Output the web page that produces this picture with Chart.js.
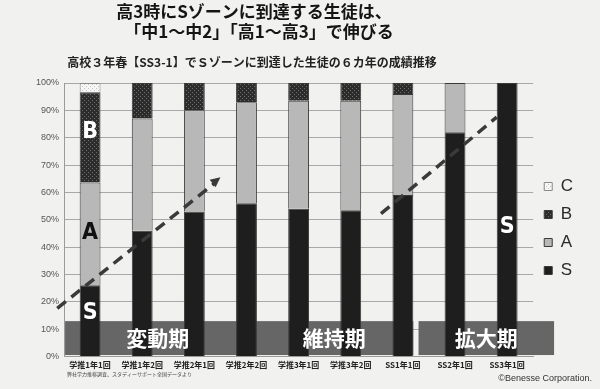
<!DOCTYPE html>
<html>
<head>
<meta charset="utf-8">
<script src="https://cdn.jsdelivr.net/npm/chart.js@4/dist/chart.umd.min.js"></script>
<style>
  html, body { margin: 0; padding: 0; background: #f1f1ef; }
  #wrap { width: 600px; height: 389px; }
</style>
</head>
<body>
<div id="wrap"><canvas id="graph1" width="600" height="389"></canvas></div>
<script>
// カテゴリと値（％）
const categories = ['学推1年1回', '学推1年2回', '学推2年1回', '学推2年2回', '学推3年1回', '学推3年2回', 'SS1年1回', 'SS2年1回', 'SS3年1回'];
const sValues = [26, 46, 53, 56, 54, 53.5, 59, 82, 100];
const aValues = [37.6, 41, 37, 37, 39.5, 40, 37, 18, 0];
const bValues = [33, 13, 10, 7, 6.5, 6.5, 4, 0, 0];
const cValues = [3.4, 0, 0, 0, 0, 0, 0, 0, 0];
const yTicks = [0, 10, 20, 30, 40, 50, 60, 70, 80, 90, 100];
const phaseNames = ['変動期', '維持期', '拡大期'];

const JP = '"Noto Sans CJK JP", sans-serif';

function makePattern(base, dot) {
    const c = document.createElement('canvas');
    c.width = 4; c.height = 4;
    const g = c.getContext('2d');
    g.fillStyle = base;
    g.fillRect(0, 0, 4, 4);
    g.fillStyle = dot;
    g.fillRect(0, 0, 1, 1);
    g.fillRect(2, 2, 1, 1);
    return g.createPattern(c, 'repeat');
}

const patB = makePattern('#2c2c2c', '#6e6e6e');
const patC = makePattern('#f6f6f6', '#c4c4c4');

// 帯・矢印・文字の描画
const overlay = {
    id: 'overlay',
    beforeDatasetsDraw(chart) {
        const {ctx, scales: {x, y}} = chart;
        const spans = [[-0.48, 3.08], [3.17, 6.2], [6.3, 8.9]];
        ctx.save();
        ctx.fillStyle = '#666666';
        spans.forEach(([a, b]) => {
            const x0 = x.getPixelForValue(a), x1 = x.getPixelForValue(b);
            const y0 = y.getPixelForValue(12.9), y1 = y.getPixelForValue(0.5);
            ctx.fillRect(x0, y0, x1 - x0, y1 - y0);
        });
        ctx.restore();
    },
    afterDatasetsDraw(chart) {
        const {ctx, scales: {x, y}} = chart;
        const spans = [[-0.48, 3.08], [3.17, 6.2], [6.3, 8.9]];
        ctx.save();
        // 期の名前
        ctx.fillStyle = '#ffffff';
        ctx.font = 'bold 21px ' + JP;
        ctx.textAlign = 'center';
        ctx.textBaseline = 'middle';
        spans.forEach(([a, b], i) => {
            const cx = (x.getPixelForValue(a) + x.getPixelForValue(b)) / 2;
            ctx.fillText(phaseNames[i], cx, y.getPixelForValue(6.6));
        });

        // 破線の矢印
        ctx.strokeStyle = '#3a3a3a';
        ctx.fillStyle = '#3a3a3a';
        ctx.lineWidth = 3.5;
        ctx.setLineDash([11, 7]);
        const p0 = [x.getPixelForValue(-0.63), y.getPixelForValue(17.6)];
        const p1 = [x.getPixelForValue(2.4), y.getPixelForValue(63.5)];
        ctx.beginPath(); ctx.moveTo(p0[0], p0[1]); ctx.lineTo(p1[0], p1[1]); ctx.stroke();
        const ang = Math.atan2(p1[1] - p0[1], p1[0] - p0[0]);
        const tip = [x.getPixelForValue(2.5), y.getPixelForValue(65.5)];
        ctx.setLineDash([]);
        ctx.beginPath();
        ctx.moveTo(tip[0], tip[1]);
        ctx.lineTo(tip[0] - 11 * Math.cos(ang - 0.45), tip[1] - 11 * Math.sin(ang - 0.45));
        ctx.lineTo(tip[0] - 11 * Math.cos(ang + 0.45), tip[1] - 11 * Math.sin(ang + 0.45));
        ctx.closePath(); ctx.fill();

        ctx.setLineDash([11, 7]);
        const q0 = [x.getPixelForValue(5.58), y.getPixelForValue(52.2)];
        const q1 = [x.getPixelForValue(7.8), y.getPixelForValue(87.5)];
        ctx.beginPath(); ctx.moveTo(q0[0], q0[1]); ctx.lineTo(q1[0], q1[1]); ctx.stroke();
        ctx.setLineDash([]);

        // 棒の中の文字
        ctx.font = 'bold 23px "Liberation Sans Narrow", "DejaVu Sans Condensed", sans-serif';
        const marks = [['B', 0, 82, '#ffffff'], ['A', 0, 45, '#111111'], ['S', 0, 15.8, '#ffffff'], ['S', 8, 47.4, '#ffffff']];
        marks.forEach(([t, i, v, c]) => {
            ctx.fillStyle = c;
            ctx.fillText(t, x.getPixelForValue(i), y.getPixelForValue(v));
        });
        ctx.restore();
    },
    afterDraw(chart) {
        const ctx = chart.ctx;
        ctx.save();
        ctx.textAlign = 'center';
        ctx.textBaseline = 'middle';
        ctx.fillStyle = '#151515';
        ctx.font = 'bold 17px ' + JP;
        ctx.fillText('高3時にSゾーンに到達する生徒は、', 254, 12);
        ctx.fillText('「中1～中2」「高1～高3」で伸びる', 259, 32);
        ctx.fillStyle = '#222222';
        ctx.font = 'bold 12px ' + JP;
        ctx.fillText('高校３年春【SS3-1】でＳゾーンに到達した生徒の６カ年の成績推移', 252, 62);

        ctx.textAlign = 'left';
        ctx.fillStyle = '#444444';
        ctx.font = '5px ' + JP;
        ctx.fillText('弊社学力推移調査、スタディーサポート全国データより', 67, 374);
        ctx.textAlign = 'right';
        ctx.fillStyle = '#333333';
        ctx.font = '9px "Liberation Sans", sans-serif';
        ctx.fillText('©Benesse Corporation.', 592, 379);
        ctx.restore();
    }
};

const barBase = { borderColor: '#3a3a3a', borderWidth: 1, categoryPercentage: 1, barPercentage: 0.4 };

const config = {
    type: 'bar',
    data: {
        labels: categories,
        datasets: [
            { ...barBase, label: 'S', data: sValues, backgroundColor: '#1e1e1e' },
            { ...barBase, label: 'A', data: aValues, backgroundColor: '#b8b8b8' },
            { ...barBase, label: 'B', data: bValues, backgroundColor: patB },
            { ...barBase, label: 'C', data: cValues, backgroundColor: patC, borderColor: '#8a8a8a' },
        ]
    },
    options: {
        responsive: false,
        animation: false,
        devicePixelRatio: 1,
        layout: { padding: { top: 83, left: 31, right: 17, bottom: 15 } },
        scales: {
            x: {
                stacked: true,
                grid: { display: false, drawTicks: false },
                border: { color: '#9a9a9a' },
                ticks: {
                    padding: 4,
                    color: '#222222',
                    maxRotation: 0,
                    autoSkip: false,
                    font: { family: JP, size: 8, weight: 'bold' }
                }
            },
            y: {
                stacked: true,
                min: 0,
                max: 100,
                afterBuildTicks(axis) {
                    axis.ticks = yTicks.map(v => ({ value: v }));
                },
                grid: { color: '#a8a8a8', drawTicks: false },
                border: { color: '#9a9a9a' },
                ticks: {
                    padding: 5,
                    color: '#555555',
                    callback: value => value + '%',
                    font: { family: '"Liberation Sans", sans-serif', size: 9 }
                }
            }
        },
        plugins: {
            legend: {
                position: 'right',
                reverse: true,
                labels: {
                    boxWidth: 8,
                    boxHeight: 8,
                    padding: 11,
                    color: '#2a2a2a',
                    font: { family: '"Liberation Sans", sans-serif', size: 17 }
                }
            },
            tooltip: { enabled: false }
        }
    },
    plugins: [overlay]
};

const myChart = new Chart(document.getElementById('graph1'), config);
</script>
</body>
</html>
